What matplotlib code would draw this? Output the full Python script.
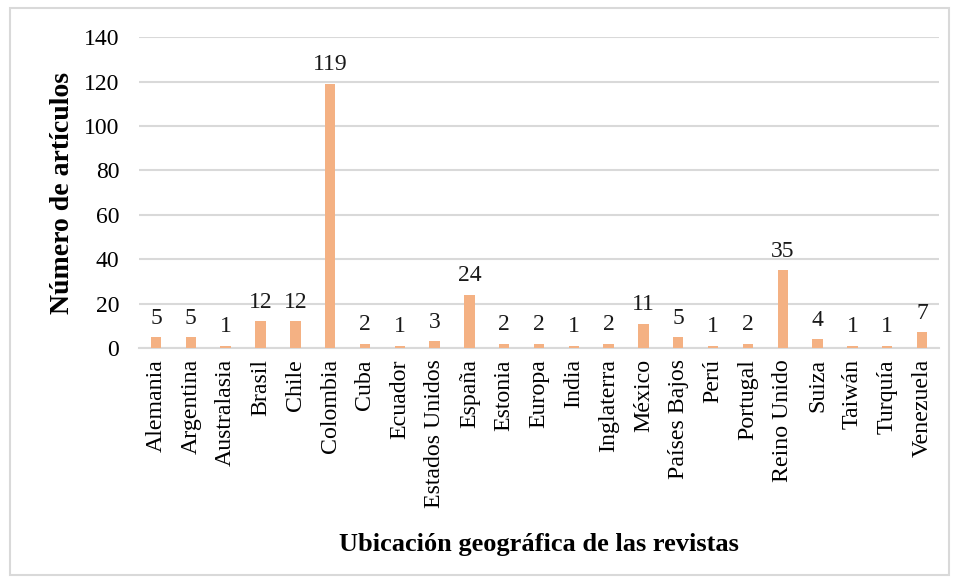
import matplotlib.pyplot as plt
import matplotlib.patches as mpatches
import numpy as np

paises = ["Alemania", "Argentina", "Australasia", "Brasil", "Chile", "Colombia",
          "Cuba", "Ecuador", "Estados Unidos", "España", "Estonia", "Europa",
          "India", "Inglaterra", "México", "Países Bajos", "Perú", "Portugal",
          "Reino Unido", "Suiza", "Taiwán", "Turquía", "Venezuela"]
articulos = [5, 5, 1, 12, 12, 119, 2, 1, 3, 24, 2, 2, 1, 2, 11, 5, 1, 2, 35, 4, 1, 1, 7]
y_ticks = [0, 20, 40, 60, 80, 100, 120, 140]

plt.rcParams['font.family'] = ['Liberation Serif', 'DejaVu Serif']

fig = plt.figure(figsize=(9.54, 5.8), dpi=100)
ax = fig.add_axes([0.1453, 0.40, 0.8394, 0.536])

x = np.arange(len(paises))
bars = ax.bar(x, articulos, width=0.3, color='#F4B183', zorder=3)
for xi, v in zip(x, articulos):
    ax.annotate(str(v), (xi, v), xytext=(0, 6), textcoords='offset points',
                ha='center', va='bottom', fontsize=17, color='#1a1a1a')

ax.set_xlim(-0.5, len(paises) - 0.5)
ax.set_ylim(0, 140)
ax.set_yticks(y_ticks)
ax.set_xticks(x)
ax.set_xticklabels(paises, rotation=90, fontsize=17.2)
ax.tick_params(axis='y', labelsize=17, length=0, pad=14)
ax.tick_params(axis='x', length=0, pad=8)
ax.grid(axis='y', color='#d9d9d9', linewidth=1.5, zorder=0)
for s in ['top', 'right', 'left']:
    ax.spines[s].set_visible(False)
ax.spines['bottom'].set_color('#d9d9d9')
ax.spines['bottom'].set_linewidth(1.5)

ax.set_ylabel("Número de artículos", fontsize=20, fontweight='bold', labelpad=6)
fig.text(0.565, 0.061, "Ubicación geográfica de las revistas", ha='center', va='center',
         fontsize=19, fontweight='bold')

# marco gris alrededor de la figura
fig.patches.append(mpatches.Rectangle((0.011, 0.008), 0.984, 0.978, transform=fig.transFigure,
                                      fill=False, edgecolor='#d9d9d9', linewidth=1.5))

fig.savefig("out.png", dpi=100)
